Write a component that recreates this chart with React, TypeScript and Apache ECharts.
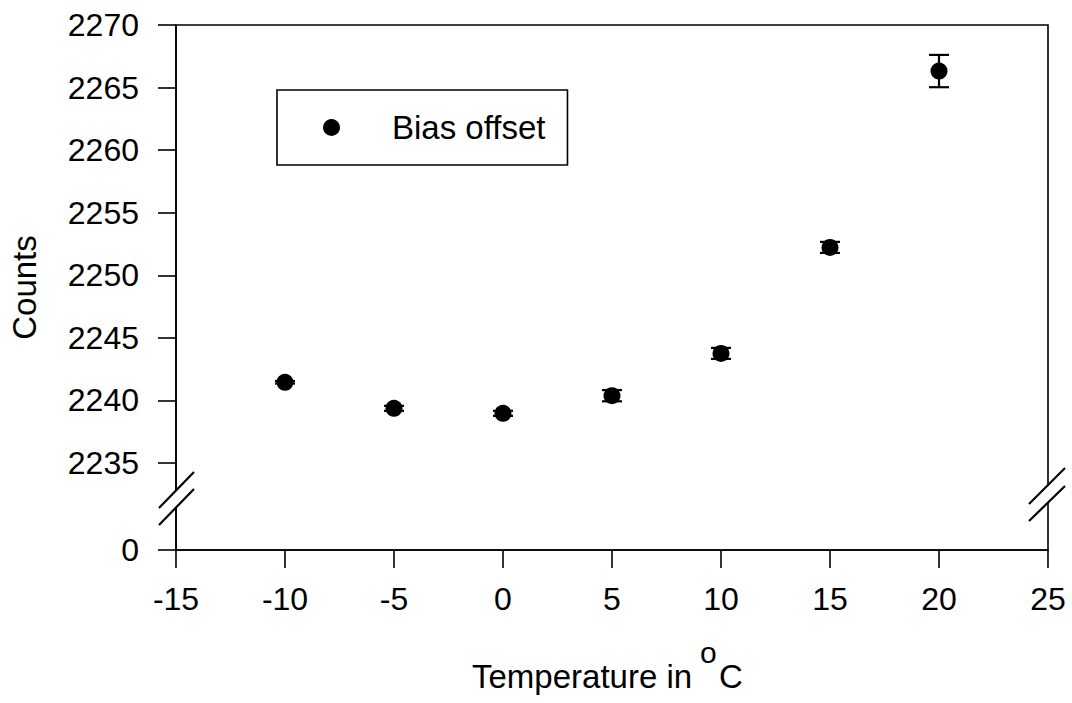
import React, { useEffect, useRef } from "react";
import * as echarts from "echarts";

// ---- data ----
const temperatures = [-10, -5, 0, 5, 10, 15, 20];
const biasCounts = [2241.45, 2239.37, 2238.97, 2240.38, 2243.76, 2252.23, 2266.32];
const biasErrors = [0.1, 0.2, 0.2, 0.45, 0.44, 0.44, 1.29];

const xTicks = [-15, -10, -5, 0, 5, 10, 15, 20, 25];
const yTicksUpper = [2235, 2240, 2245, 2250, 2255, 2260, 2265, 2270];
const yTickZeroLabel = "0";
// the broken axis: the "0" tick sits at this position of the value scale
const BREAK_BASE = 2228.05;

const FONT = "'Liberation Sans', Arial, Helvetica, sans-serif";

export default function App() {
  const ref = useRef<HTMLDivElement>(null);

  useEffect(() => {
    if (!ref.current) return;
    const chart = echarts.init(ref.current, undefined, { renderer: "svg" });

    const yCustom = [BREAK_BASE, ...yTicksUpper];
    const scatterData = temperatures.map((t, i) => [t, biasCounts[i]]);
    const errData = temperatures.map((t, i) => [t, biasCounts[i] - biasErrors[i], biasCounts[i] + biasErrors[i]]);

    const axisLineStyle = { color: "#000", width: 1.6 };

    const breakLine = (x1: number, y1: number, x2: number, y2: number) => ({
      type: "line",
      z: 101,
      shape: { x1, y1, x2, y2 },
      style: { stroke: "#000", lineWidth: 2.2 },
    });

    chart.setOption({
      animation: false,
      backgroundColor: "#fff",
      textStyle: { fontFamily: FONT },
      grid: {
        left: 176,
        right: 24,
        top: 25,
        bottom: 153,
        containLabel: false,
        outerBoundsMode: "none",
        show: true,
        borderColor: "#000",
        borderWidth: 1.6,
        backgroundColor: "transparent",
      },
      legend: {
        show: true,
        data: ["Bias offset"],
        left: 277,
        top: 90,
        orient: "horizontal",
        icon: "circle",
        itemWidth: 17,
        itemHeight: 17,
        padding: [21, 22, 21, 46],
        borderColor: "#000",
        borderWidth: 1.6,
        backgroundColor: "#fff",
        formatter: "{g|}{t|Bias offset}",
        itemStyle: { color: "#000", opacity: 1 },
        textStyle: {
          color: "#000",
          fontFamily: FONT,
          fontSize: 33,
          rich: {
            g: { width: 47 },
            t: { fontSize: 33, fontFamily: FONT, color: "#000" },
          },
        },
        selectedMode: false,
      },
      xAxis: {
        type: "value",
        min: -15,
        max: 25,
        interval: 5,
        axisLine: { show: true, onZero: false, lineStyle: axisLineStyle },
        axisTick: { show: true, inside: false, length: 18, lineStyle: axisLineStyle },
        axisLabel: {
          color: "#000",
          fontSize: 32,
          fontFamily: FONT,
          margin: 33,
          customValues: xTicks,
          formatter: (v: number) => String(v),
        },
        splitLine: { show: false },
      },
      yAxis: {
        type: "value",
        min: BREAK_BASE,
        max: 2270,
        name: "Counts",
        nameLocation: "middle",
        nameGap: 135,
        nameRotate: 90,
        nameTextStyle: { color: "#000", fontSize: 33, fontFamily: FONT },
        axisLine: { show: true, onZero: false, lineStyle: axisLineStyle },
        axisTick: { show: true, inside: false, length: 18, lineStyle: axisLineStyle, customValues: yCustom },
        axisLabel: {
          color: "#000",
          fontSize: 32,
          fontFamily: FONT,
          margin: 37,
          customValues: yCustom,
          formatter: (v: number) => (v < yTicksUpper[0] - 1 ? yTickZeroLabel : String(Math.round(v))),
        },
        splitLine: { show: false },
      },
      series: [
        {
          type: "custom",
          name: "errors",
          data: errData,
          z: 3,
          renderItem: (params: any, api: any) => {
            const x = api.value(0);
            const lo = api.coord([x, api.value(1)]);
            const hi = api.coord([x, api.value(2)]);
            const hw = 10;
            const st = { stroke: "#000", lineWidth: 2.2 };
            return {
              type: "group",
              children: [
                { type: "line", shape: { x1: lo[0], y1: lo[1], x2: hi[0], y2: hi[1] }, style: st },
                { type: "line", shape: { x1: hi[0] - hw, y1: hi[1], x2: hi[0] + hw, y2: hi[1] }, style: st },
                { type: "line", shape: { x1: lo[0] - hw, y1: lo[1], x2: lo[0] + hw, y2: lo[1] }, style: st },
              ],
            };
          },
        },
        {
          type: "scatter",
          name: "Bias offset",
          data: scatterData,
          symbol: "circle",
          symbolSize: 17,
          z: 4,
          itemStyle: { color: "#000", opacity: 1 },
        },
      ],
      graphic: [
        // left axis break
        { type: "rect", z: 100, shape: { x: 170, y: 491, width: 12, height: 16 }, style: { fill: "#fff" } },
        breakLine(159, 508, 194, 472),
        breakLine(159, 525, 194, 489),
        // right axis break
        { type: "rect", z: 100, shape: { x: 1042, y: 486, width: 12, height: 16 }, style: { fill: "#fff" } },
        breakLine(1029, 504, 1065, 468),
        breakLine(1029, 521, 1065, 486),
        // x axis title with superscript
        {
          type: "text",
          z: 100,
          x: 472,
          y: 676,
          style: { text: "Temperature in", fill: "#000", fontSize: 33, fontFamily: FONT, verticalAlign: "middle", align: "left" },
        },
        {
          type: "text",
          z: 100,
          x: 700,
          y: 652,
          style: { text: "o", fill: "#000", fontSize: 30, fontFamily: FONT, verticalAlign: "middle", align: "left" },
        },
        {
          type: "text",
          z: 100,
          x: 719,
          y: 676,
          style: { text: "C", fill: "#000", fontSize: 33, fontFamily: FONT, verticalAlign: "middle", align: "left" },
        },
      ],
    });

    return () => chart.dispose();
  }, []);

  return (
    <div
      ref={ref}
      style={{ position: "fixed", left: 0, top: 0, width: 1072, height: 703, background: "#fff" }}
    />
  );
}
